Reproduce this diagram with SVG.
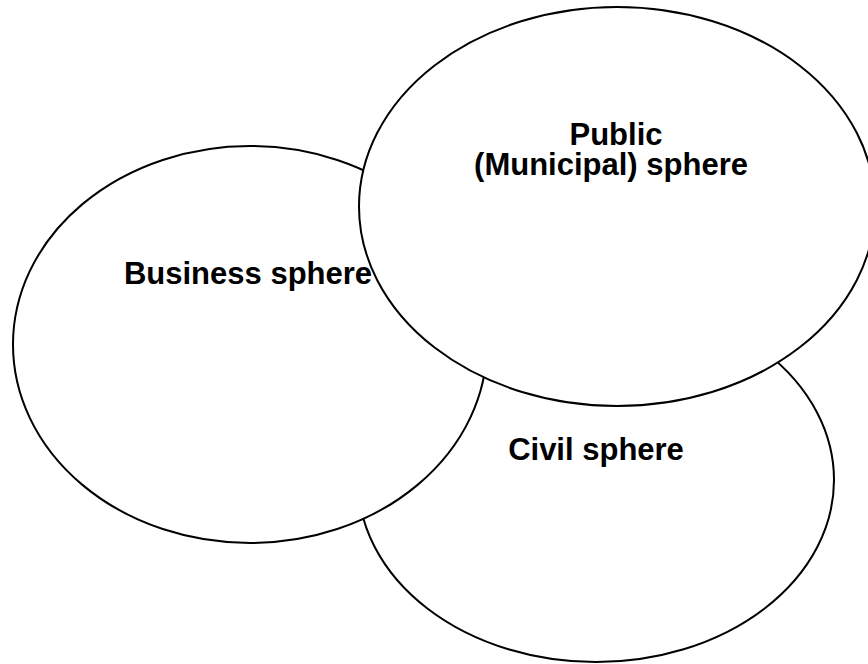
<svg xmlns="http://www.w3.org/2000/svg" width="868" height="664" viewBox="0 0 868 664">
  <style>
    .sphere { fill: #ffffff; stroke: #000000; stroke-width: 2; }
    .label { font-family: "Liberation Sans", Arial, sans-serif; font-weight: bold; font-size: 31px; fill: #000000; text-anchor: middle; }
  </style>
  <rect width="868" height="664" fill="#ffffff"/>
  <!-- Civil sphere sits at the back -->
  <g id="civil">
    <ellipse class="sphere" cx="596" cy="480" rx="238" ry="182"/>
    <text class="label" x="596" y="460">Civil sphere</text>
  </g>
  <!-- Business sphere overlaps the civil one -->
  <g id="business">
    <ellipse class="sphere" cx="250" cy="344.5" rx="237" ry="198.5"/>
    <text class="label" x="248" y="284">Business sphere</text>
  </g>
  <!-- Public sphere is drawn on top of both -->
  <g id="public">
    <ellipse class="sphere" cx="617" cy="206.5" rx="258" ry="199.5"/>
    <text class="label"><tspan x="616" y="144.5">Public</tspan><tspan x="611" y="175">(Municipal) sphere</tspan></text>
  </g>
  <g id="connectors"/>
</svg>
